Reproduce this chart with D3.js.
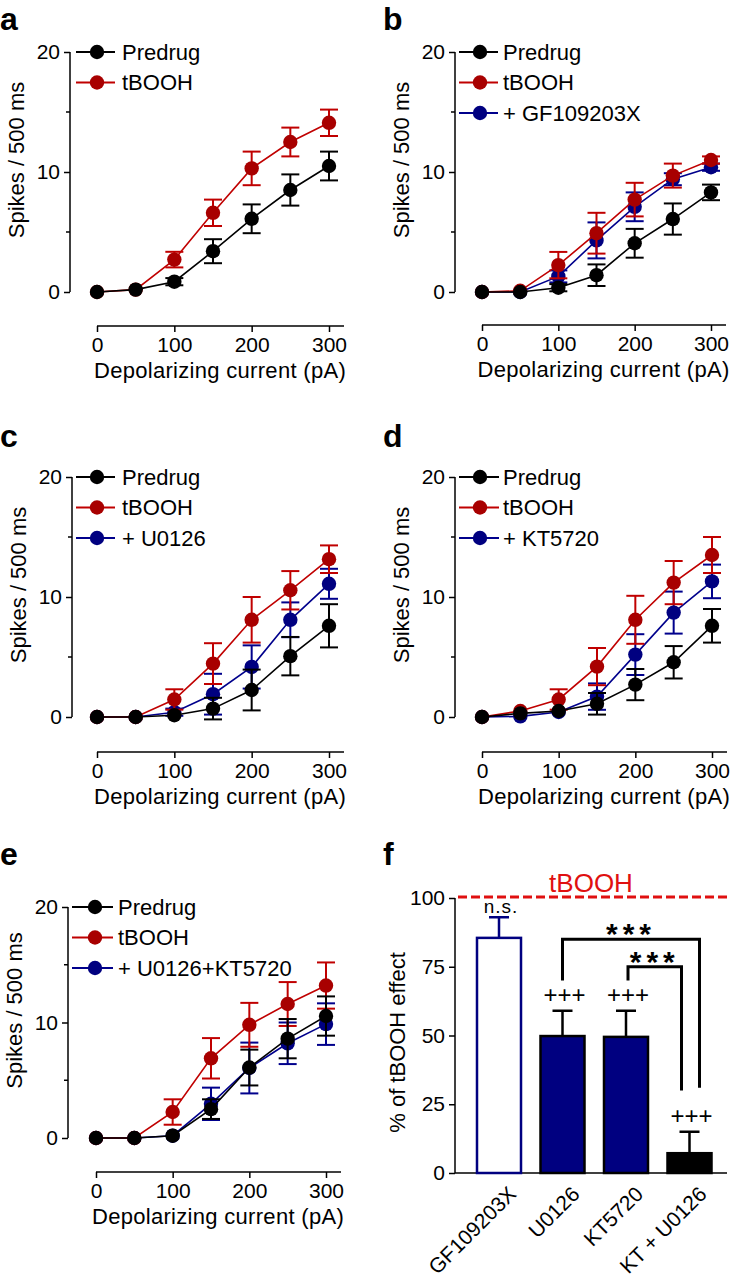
<!DOCTYPE html>
<html><head><meta charset="utf-8">
<script src="https://cdn.jsdelivr.net/npm/d3@7"></script>
<style>
body{margin:0;background:#fff}
svg{display:block}
text{font-family:Arial,"Liberation Sans",sans-serif;fill:#000}
</style>
</head><body>
<svg id="chart" width="732" height="1280"></svg>
<script>
// ---------- DATA ----------
const currents = [0, 50, 100, 150, 200, 250, 300];
const xTickValues = [0, 100, 200, 300];
const yTickMajor = [0, 10, 20];
const yTickMinor = [5, 15];
const xTitle = "Depolarizing current (pA)";
const yTitle = "Spikes / 500 ms";

// panel a
const aPredrug    = [0, 0.2, 0.86, 3.4, 6.1, 8.5, 10.5];
const aPredrugErr = [0, 0, 0.3, 1.0, 1.2, 1.3, 1.2];
const aTbooh      = [0, 0.2, 2.7, 6.6, 10.3, 12.5, 14.1];
const aTboohErr   = [0, 0, 0.65, 1.1, 1.4, 1.2, 1.1];

// panel b
const bPredrug    = [0, 0, 0.36, 1.4, 4.06, 6.08, 8.3];
const bPredrugErr = [0, 0, 0.3, 0.9, 1.2, 1.3, 0.65];
const bTbooh      = [0, 0.1, 2.24, 4.9, 7.7, 9.7, 11.0];
const bTboohErr   = [0, 0, 1.1, 1.7, 1.4, 1.0, 0.3];
const bGF         = [0, 0, 1.3, 4.3, 7.1, 9.4, 10.4];
const bGFErr      = [0, 0, 0.5, 1.5, 1.2, 0.5, 0.3];

// panel c
const cPredrug    = [0, 0, 0.15, 0.7, 2.25, 5.07, 7.6];
const cPredrugErr = [0, 0, 0.2, 0.9, 1.7, 1.6, 1.8];
const cTbooh      = [0, 0, 1.46, 4.45, 8.1, 10.56, 13.15];
const cTboohErr   = [0, 0, 0.85, 1.7, 1.9, 1.6, 1.15];
const cU0126      = [0, 0, 0.4, 1.9, 4.17, 8.1, 11.1];
const cU0126Err   = [0, 0, 0.3, 1.7, 1.8, 1.45, 1.25];

// panel d
const dPredrug    = [0, 0.3, 0.5, 1.1, 2.7, 4.56, 7.6];
const dPredrugErr = [0, 0, 0.2, 0.9, 1.3, 1.35, 1.4];
const dTbooh      = [0, 0.5, 1.46, 4.2, 8.1, 11.2, 13.5];
const dTboohErr   = [0, 0, 0.85, 1.55, 2.0, 1.8, 1.5];
const dKT5720     = [0, 0.05, 0.42, 1.7, 5.2, 8.7, 11.3];
const dKT5720Err  = [0, 0, 0.2, 1.1, 1.7, 1.75, 1.4];

// panel e
const ePredrug    = [0, 0, 0.2, 2.5, 6.1, 8.6, 10.56];
const ePredrugErr = [0, 0, 0.2, 0.85, 1.55, 1.7, 1.7];
const eTbooh      = [0, 0, 2.25, 6.9, 9.8, 11.6, 13.2];
const eTboohErr   = [0, 0, 1.1, 1.75, 1.9, 1.9, 2.0];
const eCombo      = [0, 0, 0.2, 2.96, 6.06, 8.2, 9.86];
const eComboErr   = [0, 0, 0.2, 1.4, 2.2, 1.8, 1.8];

// panel f
const fCategories = ["GF109203X", "U0126", "KT5720", "KT + U0126"];
const fValues     = [85.5, 49.8, 49.5, 7.2];
const fErrors     = [7.5, 9.2, 9.5, 7.8];
const fMarks      = ["n.s.", "+++", "+++", "+++"];
const fYTicks     = [0, 25, 50, 75, 100];
const fRefValue   = 100;
const fRefLabel   = "tBOOH";
const fYTitle     = "% of tBOOH effect";
// comparison brackets: [from, to, bar level, left leg end, right leg end]
const fBrackets = [
  ["U0126", "KT + U0126", 85, 70, 31],
  ["KT5720", "KT + U0126", 75, 70, 30]
];
const fBracketLabel = "***";

// ---------- STYLE ----------
const COL = {
  black: "#000000",
  redLine: "#c00000", redFill: "#a80000",
  blueLine: "#00008c", blueFill: "#000080",
  ref: "#e01010"
};

const svg = d3.select("#chart");

function makeSeries(name, vals, errs, kind) {
  return { name, vals, errs, kind };
}

const linePanels = [
  { letter: "a", lx: 0, ly: 30, x0: 97, x1: 329, yTop: 52, yBot: 292, axisX: 70, axisY: 326,
    legLine: [76, 115], legMarker: 97, legText: 122,
    series: [makeSeries("Predrug", aPredrug, aPredrugErr, "black"),
             makeSeries("tBOOH", aTbooh, aTboohErr, "red")] },
  { letter: "b", lx: 383, ly: 30, x0: 482, x1: 711, yTop: 52, yBot: 292, axisX: 455, axisY: 325,
    legLine: [459, 498], legMarker: 480, legText: 503,
    series: [makeSeries("Predrug", bPredrug, bPredrugErr, "black"),
             makeSeries("tBOOH", bTbooh, bTboohErr, "red"),
             makeSeries("+ GF109203X", bGF, bGFErr, "blue")] },
  { letter: "c", lx: 0, ly: 447, x0: 97, x1: 329, yTop: 477, yBot: 717, axisX: 72, axisY: 752,
    legLine: [76, 115], legMarker: 97, legText: 122,
    series: [makeSeries("Predrug", cPredrug, cPredrugErr, "black"),
             makeSeries("tBOOH", cTbooh, cTboohErr, "red"),
             makeSeries("+ U0126", cU0126, cU0126Err, "blue")] },
  { letter: "d", lx: 383, ly: 447, x0: 482, x1: 712, yTop: 477, yBot: 717, axisX: 455, axisY: 752,
    legLine: [459, 499], legMarker: 480, legText: 503,
    series: [makeSeries("Predrug", dPredrug, dPredrugErr, "black"),
             makeSeries("tBOOH", dTbooh, dTboohErr, "red"),
             makeSeries("+ KT5720", dKT5720, dKT5720Err, "blue")] },
  { letter: "e", lx: 0, ly: 865, x0: 96, x1: 326, yTop: 907, yBot: 1138, axisX: 68, axisY: 1172,
    legLine: [72, 113], legMarker: 95, legText: 118,
    series: [makeSeries("Predrug", ePredrug, ePredrugErr, "black"),
             makeSeries("tBOOH", eTbooh, eTboohErr, "red"),
             makeSeries("+ U0126+KT5720", eCombo, eComboErr, "blue")] }
];

function colors(kind) {
  if (kind === "red") return { line: COL.redLine, fill: COL.redFill };
  if (kind === "blue") return { line: COL.blueLine, fill: COL.blueFill };
  return { line: COL.black, fill: COL.black };
}

function panelLetter(letter, x, y) {
  svg.append("text").attr("x", x).attr("y", y)
    .attr("font-size", 32).attr("font-weight", "bold").text(letter);
}

linePanels.forEach(p => {
  const g = svg.append("g");
  const x = d3.scaleLinear().domain([0, 300]).range([p.x0, p.x1]);
  const y = d3.scaleLinear().domain([0, 20]).range([p.yBot, p.yTop]);

  panelLetter(p.letter, p.lx, p.ly);

  // y axis
  const yAxis = d3.axisLeft(y).tickValues(yTickMajor).tickSize(6).tickPadding(4).tickFormat(d3.format("d"));
  const ya = g.append("g").attr("transform", `translate(${p.axisX},0)`).call(yAxis);
  ya.select(".domain").attr("d", `M0,${y(0)}V${y(20)}`).attr("stroke-width", 1.5);
  ya.selectAll(".tick line").attr("stroke-width", 1.5);
  ya.selectAll(".tick text").attr("font-size", 21).attr("font-family", "Arial, 'Liberation Sans', sans-serif");
  ya.selectAll(".minor").data(yTickMinor).enter().append("line")
    .attr("x1", -4).attr("x2", 0).attr("y1", d => y(d)).attr("y2", d => y(d))
    .attr("stroke", "#000").attr("stroke-width", 1.5);

  // x axis
  const xAxis = d3.axisBottom(x).tickValues(xTickValues).tickSize(6).tickPadding(5).tickFormat(d3.format("d"));
  const xa = g.append("g").attr("transform", `translate(0,${p.axisY})`).call(xAxis);
  xa.select(".domain").attr("d", `M${x(0)},0H${x(300) + 15}`).attr("stroke-width", 1.5);
  xa.selectAll(".tick line").attr("stroke-width", 1.5);
  xa.selectAll(".tick text").attr("font-size", 21).attr("font-family", "Arial, 'Liberation Sans', sans-serif");

  // titles
  g.append("text").attr("x", (x(0) + x(300)) / 2 + 7).attr("y", p.axisY + 52)
    .attr("text-anchor", "middle").attr("font-size", 22).attr("letter-spacing", 0.3).text(xTitle);
  const ty = (y(0) + y(20)) / 2 - 12;
  g.append("text").attr("transform", `translate(${p.axisX - 46},${ty}) rotate(-90)`)
    .attr("text-anchor", "middle").attr("font-size", 22).text(yTitle);

  // series: draw blue first, then red, then black on top
  const order = ["blue", "red", "black"];
  const sorted = p.series.slice().sort((a, b) => order.indexOf(a.kind) - order.indexOf(b.kind));
  sorted.forEach(s => {
    const c = colors(s.kind);
    const pts = currents.map((cx, i) => ({ cx, v: s.vals[i], e: s.errs[i] }));
    const sg = g.append("g");
    sg.append("path").datum(pts)
      .attr("d", d3.line().x(d => x(d.cx)).y(d => y(d.v)))
      .attr("fill", "none").attr("stroke", c.line).attr("stroke-width", 1.6);
    const eb = sg.selectAll(".eb").data(pts.filter(d => d.e > 0.25)).enter().append("g");
    eb.append("line").attr("x1", d => x(d.cx)).attr("x2", d => x(d.cx))
      .attr("y1", d => y(d.v - d.e)).attr("y2", d => y(d.v + d.e))
      .attr("stroke", c.line).attr("stroke-width", 2);
    [1, -1].forEach(sign => {
      eb.append("line").attr("x1", d => x(d.cx) - 9).attr("x2", d => x(d.cx) + 9)
        .attr("y1", d => y(d.v + sign * d.e)).attr("y2", d => y(d.v + sign * d.e))
        .attr("stroke", c.line).attr("stroke-width", 2);
    });
    sg.selectAll(".pt").data(pts).enter().append("circle")
      .attr("cx", d => x(d.cx)).attr("cy", d => y(d.v)).attr("r", 7.2)
      .attr("fill", c.fill);
  });

  // legend
  p.series.forEach((s, i) => {
    const c = colors(s.kind);
    const ly = p.yTop + i * 30.5;
    g.append("line").attr("x1", p.legLine[0]).attr("x2", p.legLine[1]).attr("y1", ly).attr("y2", ly)
      .attr("stroke", c.line).attr("stroke-width", 1.8);
    g.append("circle").attr("cx", p.legMarker).attr("cy", ly).attr("r", 7.2).attr("fill", c.fill);
    g.append("text").attr("x", p.legText).attr("y", ly + 7.5).attr("font-size", 22).text(s.name);
  });
});

// ---------- PANEL f ----------
(function () {
  const g = svg.append("g");
  panelLetter("f", 383, 865);
  const y = d3.scaleLinear().domain([0, 100]).range([1173, 898]);
  const x = d3.scalePoint().domain(fCategories).range([499, 689.5]);
  const axisX = 455, barW = 44;

  // reference dashed line + label
  g.append("line").attr("x1", axisX + 3).attr("x2", 730).attr("y1", y(fRefValue) - 1).attr("y2", y(fRefValue) - 1)
    .attr("stroke", COL.ref).attr("stroke-width", 3).attr("stroke-dasharray", "9,4");
  g.append("text").attr("x", 591).attr("y", y(fRefValue) - 6).attr("text-anchor", "middle")
    .attr("font-size", 26).style("fill", COL.ref).text(fRefLabel);

  // y axis
  const ya = g.append("g").attr("transform", `translate(${axisX},0)`)
    .call(d3.axisLeft(y).tickValues(fYTicks).tickSize(6).tickPadding(4));
  ya.select(".domain").attr("d", `M0,${y(0)}V${y(100)}`).attr("stroke-width", 1.5);
  ya.selectAll(".tick line").attr("stroke-width", 1.5);
  ya.selectAll(".tick text").attr("font-size", 21).attr("font-family", "Arial, 'Liberation Sans', sans-serif");
  g.append("line").attr("x1", axisX).attr("x2", 727).attr("y1", y(0)).attr("y2", y(0))
    .attr("stroke", "#000").attr("stroke-width", 1.5);
  g.append("text").attr("transform", `translate(${axisX - 50},${(y(0) + y(100)) / 2 + 7}) rotate(-90)`)
    .attr("text-anchor", "middle").attr("font-size", 22).text(fYTitle);

  const barStyle = [
    { fill: "#ffffff", stroke: COL.blueFill, err: COL.blueFill },
    { fill: COL.blueFill, stroke: "#000", err: "#000" },
    { fill: COL.blueFill, stroke: "#000", err: "#000" },
    { fill: "#000", stroke: "#000", err: "#000" }
  ];
  fCategories.forEach((cat, i) => {
    const cx = x(cat), st = barStyle[i];
    // error bar (upward)
    g.append("line").attr("x1", cx).attr("x2", cx).attr("y1", y(fValues[i])).attr("y2", y(fValues[i] + fErrors[i]))
      .attr("stroke", st.err).attr("stroke-width", 2.5);
    g.append("line").attr("x1", cx - 10).attr("x2", cx + 10)
      .attr("y1", y(fValues[i] + fErrors[i])).attr("y2", y(fValues[i] + fErrors[i]))
      .attr("stroke", st.err).attr("stroke-width", 2.5);
    g.append("rect").attr("x", cx - barW / 2).attr("width", barW)
      .attr("y", y(fValues[i])).attr("height", y(0) - y(fValues[i]))
      .attr("fill", st.fill).attr("stroke", st.stroke).attr("stroke-width", 2.5);
    // significance mark
    const top = y(fValues[i] + fErrors[i]);
    if (fMarks[i] === "n.s.") {
      g.append("text").attr("x", cx + 2).attr("y", top - 4).attr("text-anchor", "middle")
        .attr("font-size", 19).attr("letter-spacing", 1).text(fMarks[i]);
    } else {
      g.append("text").attr("x", cx + 2).attr("y", top - 8).attr("text-anchor", "middle")
        .attr("font-size", 24).text(fMarks[i]);
    }
    // category labels
    g.append("text").attr("transform", `translate(${cx + 8},${y(0) + 12}) rotate(-45)`)
      .attr("text-anchor", "end").attr("dy", "0.7em").attr("font-size", 21).text(cat);
  });

  // brackets
  const offs = [[0, 10], [2, -8]];
  fBrackets.forEach((b, i) => {
    const xl = x(b[0]) + offs[i][0], xr = x(b[1]) + offs[i][1];
    g.append("path")
      .attr("d", `M${xl},${y(b[3])}V${y(b[2])}H${xr}V${y(b[4])}`)
      .attr("fill", "none").attr("stroke", "#000").attr("stroke-width", 3);
    g.append("text").attr("x", (xl + xr) / 2).attr("y", y(b[2]) + 5).attr("text-anchor", "middle")
      .attr("font-size", 30).attr("font-weight", "bold").attr("letter-spacing", 5).text(fBracketLabel);
  });
})();
</script>
</body></html>
